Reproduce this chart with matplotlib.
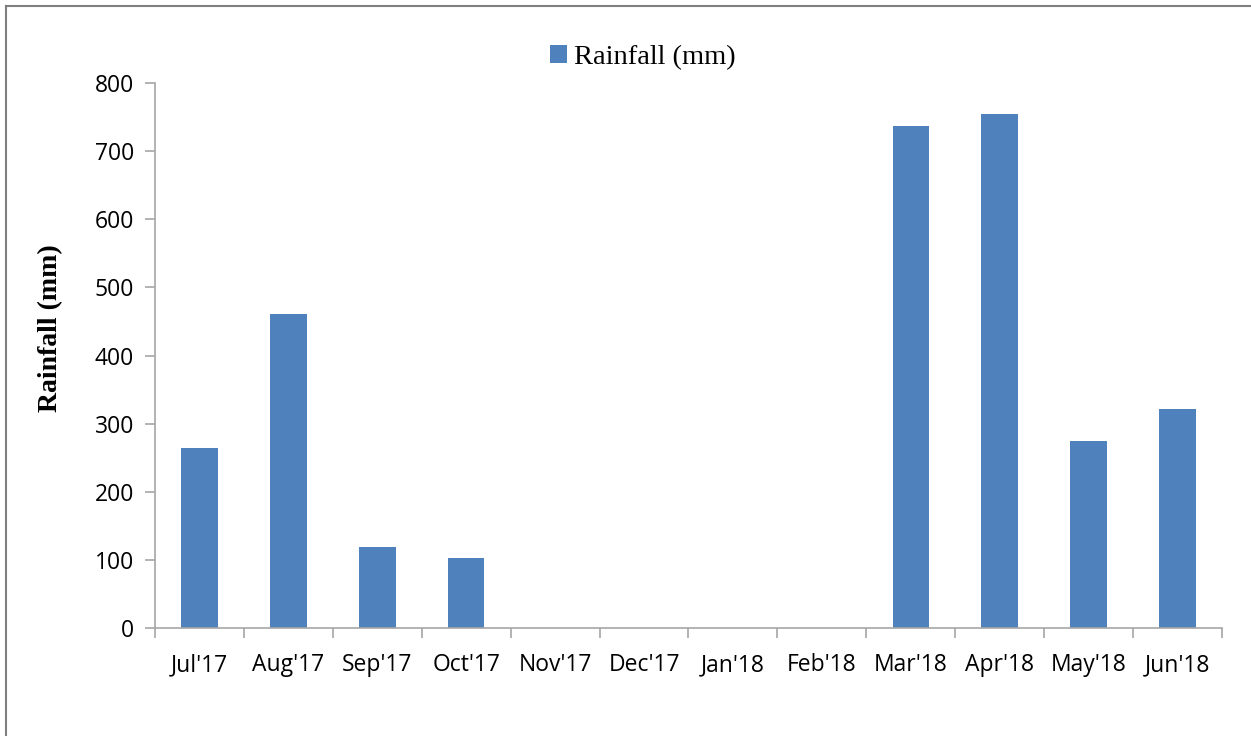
import matplotlib.pyplot as plt
from matplotlib.lines import Line2D

MONTHS = ["Jul'17", "Aug'17", "Sep'17", "Oct'17", "Nov'17", "Dec'17",
          "Jan'18", "Feb'18", "Mar'18", "Apr'18", "May'18", "Jun'18"]
RAINFALL = [264, 461, 119, 103, 0, 0, 0, 0, 737, 755, 275, 322]
Y_TICKS = [0, 100, 200, 300, 400, 500, 600, 700, 800]

BAR_COLOR = "#4f81bd"
AXIS_COLOR = "#a6a6a6"


def main():
    fig = plt.figure(figsize=(12.51, 7.36), dpi=100)
    ax = fig.add_axes([0.1239, 0.1467, 0.8529, 0.7405])

    x = list(range(len(MONTHS)))
    ax.bar(x, RAINFALL, width=0.41, color=BAR_COLOR, label="Rainfall (mm)", zorder=2)

    ax.set_xlim(-0.5, len(MONTHS) - 0.5)
    ax.set_ylim(0, 800)
    ax.set_yticks(Y_TICKS)
    ax.set_yticklabels([str(v) for v in Y_TICKS], fontsize=16.5, family="Open Sans")

    # ticks between categories on x axis
    ax.set_xticks([i - 0.5 for i in range(len(MONTHS) + 1)])
    ax.set_xticklabels([])
    ax.set_xticks(x, minor=True)
    ax.set_xticklabels(MONTHS, minor=True, fontsize=16.5, family="Open Sans")
    ax.tick_params(axis="x", which="minor", length=0, pad=18)
    ax.tick_params(axis="x", which="major", length=7, color=AXIS_COLOR, width=1.2)
    ax.tick_params(axis="y", length=7, color=AXIS_COLOR, width=1.2, pad=8)

    for side in ("top", "right"):
        ax.spines[side].set_visible(False)
    for side in ("left", "bottom"):
        ax.spines[side].set_color(AXIS_COLOR)
        ax.spines[side].set_linewidth(1.2)

    ax.set_ylabel("Rainfall (mm)", fontsize=20, fontweight="bold",
                  family="Liberation Serif", va="center")
    ax.yaxis.set_label_coords(-0.098, 0.55)

    ax.legend(loc="center", bbox_to_anchor=(0.457, 1.046), frameon=False,
              prop={"family": "Liberation Serif", "size": 20.5},
              handlelength=0.6, handleheight=0.6, handletextpad=0.25)

    # outer frame (top and left edges visible in the crop)
    fig.add_artist(Line2D([0.005, 0.005], [0.0, 0.992], color="#7f7f7f", lw=1.5,
                          transform=fig.transFigure))
    fig.add_artist(Line2D([0.005, 1.0], [0.992, 0.992], color="#7f7f7f", lw=1.5,
                          transform=fig.transFigure))

    fig.savefig("out.png", dpi=100)
    plt.close(fig)


if __name__ == "__main__":
    main()
